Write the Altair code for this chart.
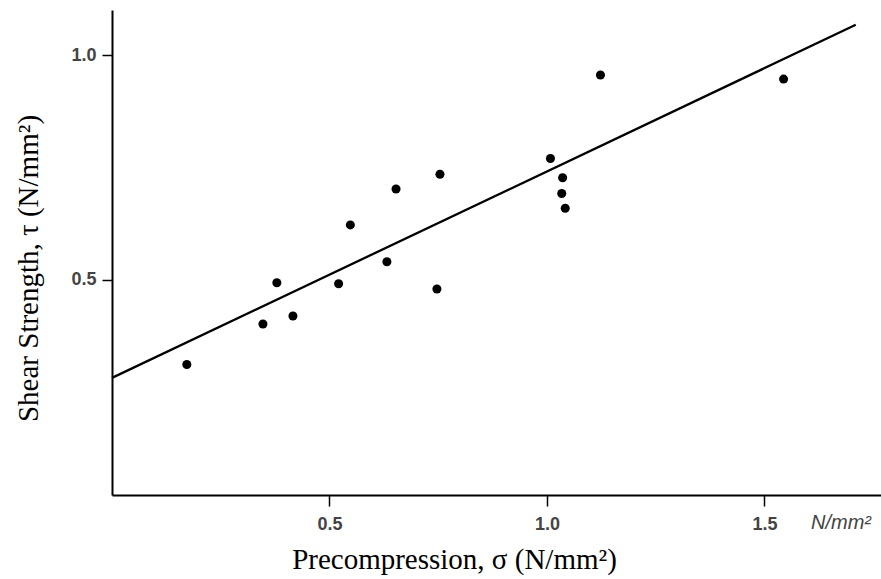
import altair as alt
import pandas as pd

# Measured shear strength against precompression (N/mm²)
sigma = [0.172, 0.347, 0.379, 0.416, 0.521, 0.548, 0.632, 0.653,
         0.747, 0.754, 1.008, 1.036, 1.034, 1.042, 1.123, 1.544]
tau = [0.311, 0.401, 0.493, 0.419, 0.491, 0.622, 0.540, 0.702,
       0.479, 0.735, 0.770, 0.727, 0.692, 0.659, 0.956, 0.947]

# End points of the fitted straight line
fit_sigma = [0.0, 1.71]
fit_tau = [0.281, 1.068]

x_ticks = [0.5, 1.0, 1.5]
y_ticks = [0.5, 1.0]
unit_label = ["N/mm²"]

points = pd.DataFrame({"sigma": sigma, "tau": tau})
fit = pd.DataFrame({"sigma": fit_sigma, "tau": fit_tau})
unit = pd.DataFrame({"unit": unit_label})

W, H = 769, 485

x_enc = alt.X(
    "sigma:Q",
    scale=alt.Scale(domain=[0, 1.768], nice=False, zero=False),
    axis=alt.Axis(
        values=x_ticks, format=".1f", grid=False,
        title="Precompression, σ (N/mm²)",
        titleFont="Liberation Serif", titleFontSize=29, titleFontWeight="normal",
        titleColor="#000", titleAlign="center", titleBaseline="alphabetic",
        titleX=342, titleY=73,
        labelFont="Liberation Sans", labelFontSize=18, labelFontWeight="bold",
        labelColor="#444", labelPadding=9, labelBaseline="top",
        tickSize=11, tickWidth=1.5, tickColor="#000",
        domainColor="#000", domainWidth=2,
    ),
)
y_enc = alt.Y(
    "tau:Q",
    scale=alt.Scale(domain=[0.02, 1.101], nice=False, zero=False),
    axis=alt.Axis(
        values=y_ticks, format=".1f", grid=False,
        title="Shear Strength, τ (N/mm²)",
        titleFont="Liberation Serif", titleFontSize=29, titleFontWeight="normal",
        titleColor="#000", titleAngle=270, titleAlign="center", titleBaseline="alphabetic",
        titleX=-75, titleY=258,
        labelFont="Liberation Sans", labelFontSize=18, labelFontWeight="bold",
        labelColor="#444", labelPadding=6,
        tickSize=10, tickWidth=1.5, tickColor="#000",
        domainColor="#000", domainWidth=2,
    ),
)

line = alt.Chart(fit).mark_line(color="#000", strokeWidth=2.3).encode(x=x_enc, y=y_enc)

dots = alt.Chart(points).mark_circle(color="#000", size=82, opacity=1).encode(x=x_enc, y=y_enc)

unit_text = alt.Chart(unit).mark_text(
    font="Liberation Sans", fontSize=20, fontStyle="italic", color="#444",
    align="center", baseline="middle",
).encode(text="unit:N", x=alt.value(729), y=alt.value(513))

chart = (
    alt.layer(line, dots, unit_text)
    .properties(
        width=W, height=H,
        autosize=alt.AutoSizeParams(type="none"),
        padding={"left": 112, "top": 10, "right": 0, "bottom": 84},
        background="white",
    )
    .configure_view(stroke=None)
)

chart.save("out.html", embed_options={"renderer": "svg", "actions": False})
